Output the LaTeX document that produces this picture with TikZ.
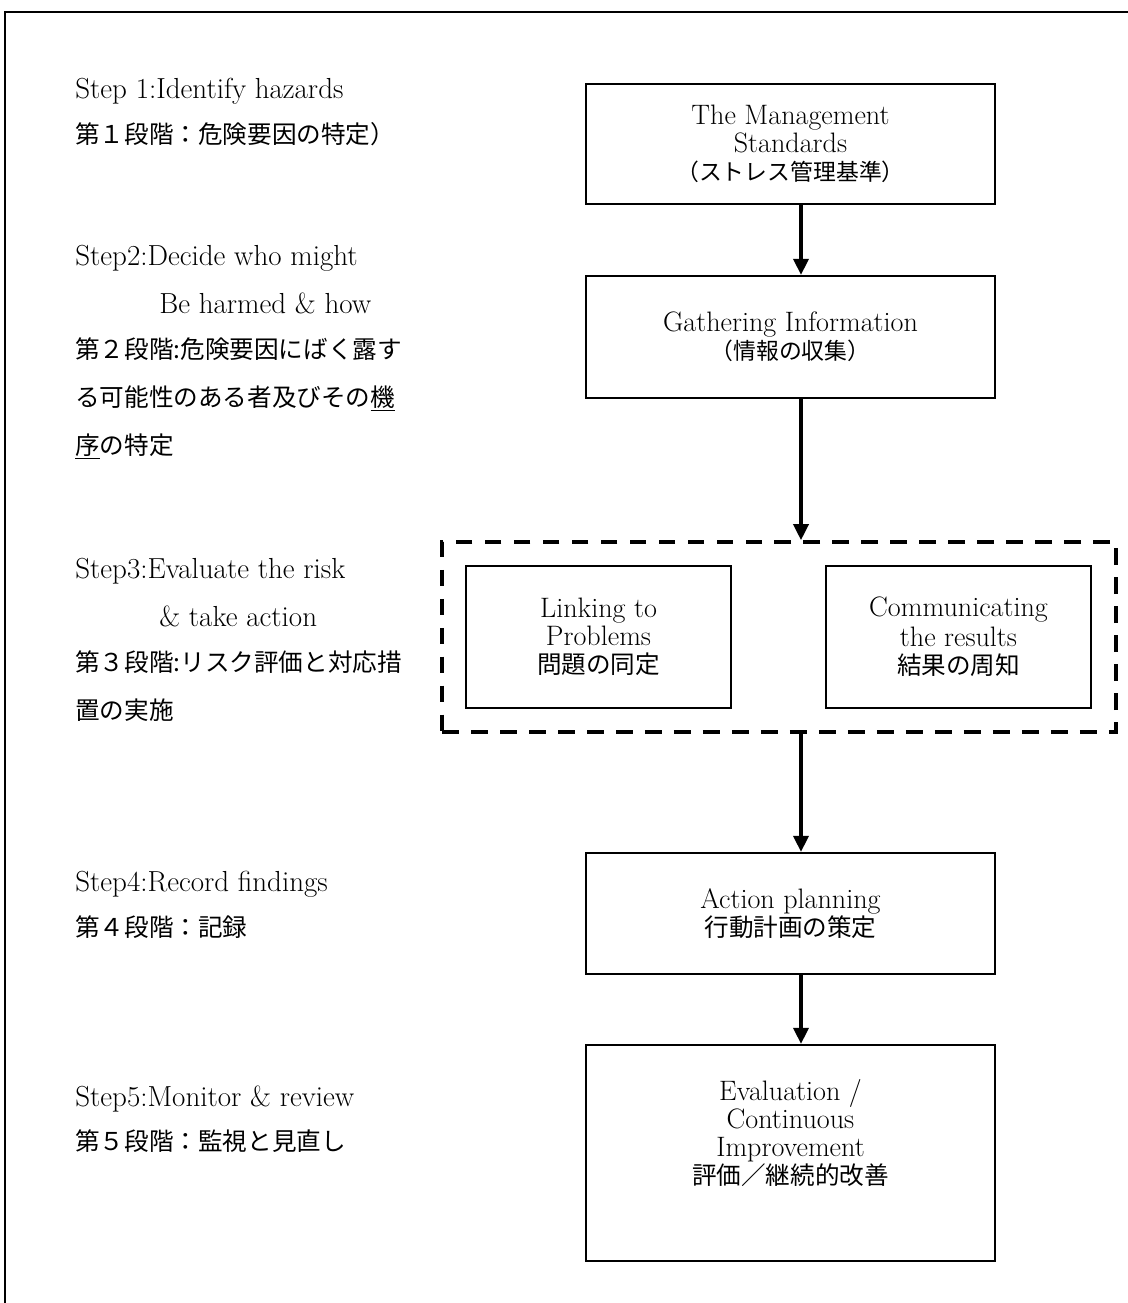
\documentclass[tikz,border=0pt]{standalone}
\usepackage{fontspec}
\newfontfamily\jpf{Noto Sans CJK JP}
\usetikzlibrary{arrows.meta,positioning}

\begin{document}
\begin{tikzpicture}[
    x=0.02cm, y=-0.02cm,
    frame/.style={draw=black, line width=1.4pt},
    box/.style={
        rectangle,
        draw=black,
        line width=1.3pt,
        minimum width=8.18cm,
        align=center,
        inner sep=0pt,
        font=\fontsize{16pt}{16pt}\selectfont
    },
    subbox/.style={
        box,
        minimum width=5.3cm,
        minimum height=2.84cm
    },
    grp/.style={
        rectangle,
        draw=black,
        line width=2.1pt,
        dash pattern=on 9.5pt off 7pt,
        minimum width=13.48cm,
        minimum height=3.8cm,
        inner sep=0pt
    },
    arr/.style={-{Triangle[length=3.2mm,width=3mm]}, line width=2pt},
    en/.style={anchor=base west, inner sep=0pt, font=\fontsize{16.5pt}{20pt}\selectfont},
    jp/.style={anchor=base west, inner sep=0pt, font=\jpf\fontsize{14pt}{16pt}\selectfont}
]
\useasboundingbox (0,0) rectangle (1128,1303);

% =========================================================
% Frame
% =========================================================
\draw[frame] (5,1303) -- (5,12) -- (1128,12);

% =========================================================
% Steps (left column)
% =========================================================
\node[en] (s1en) at (75,98) {Step 1:Identify hazards};
\node[jp] (s1jp) at (75,143) {第１段階：危険要因の特定）};

\node[en] (s2en) at (75,265) {Step2:Decide who might};
\node[en] (s2enb) at (159,313) {Be harmed \& how};
\node[jp] (s2jp) at (75,358) {第２段階:危険要因にばく露す};
\node[jp] (s2jpb) at (75,406) {る可能性のある者及びその\underline{機}};
\node[jp] (s2jpc) at (75,454) {\underline{序}の特定};

\node[en] (s3en) at (75,578) {Step3:Evaluate the risk};
\node[en] (s3enb) at (159,626) {\& take action};
\node[jp] (s3jp) at (75,671) {第３段階:リスク評価と対応措};
\node[jp] (s3jpb) at (75,719) {置の実施};

\node[en] (s4en) at (75,891) {Step4:Record findings};
\node[jp] (s4jp) at (75,936) {第４段階：記録};

\node[en] (s5en) at (75,1106) {Step5:Monitor \& review};
\node[jp] (s5jp) at (75,1150) {第５段階：監視と見直し};

% =========================================================
% Flow (right column)
% =========================================================
\node[box, minimum height=2.4cm] (std) at (790.5,144)
    {The Management\\Standards\\{\jpf\fontsize{13pt}{16pt}\selectfont （ストレス管理基準）}};
\node[box, minimum height=2.44cm] (gather) at (790.5,337)
    {Gathering Information\\{\jpf\fontsize{13pt}{16pt}\selectfont （情報の収集）}};

\node[grp] (grp) at (779,637) {};
\node[subbox] (link) at (598.5,637)
    {Linking to\\Problems\\{\jpf\fontsize{14pt}{16pt}\selectfont 問題の同定}};
\node[subbox] (comm) at (958.5,637)
    {Communicating\\[1pt]the results\\{\jpf\fontsize{14pt}{16pt}\selectfont 結果の周知}};

\node[box, minimum height=2.42cm] (action) at (790.5,913.5)
    {Action planning\\{\jpf\fontsize{14pt}{16pt}\selectfont 行動計画の策定}};
\node[box, minimum height=4.32cm] (eval) at (790.5,1153) {};
\node[align=center, inner sep=0pt, font=\fontsize{16pt}{16pt}\selectfont] (evaltxt) at (790.5,1133)
    {Evaluation /\\Continuous\\Improvement\\{\jpf\fontsize{14pt}{16pt}\selectfont 評価／継続的改善}};

% Connectors
\coordinate (spine) at (801,0);
\draw[arr] (std.south -| spine) -- (gather.north -| spine);
\draw[arr] (gather.south -| spine) -- (grp.north -| spine);
\draw[arr] (grp.south -| spine) -- (action.north -| spine);
\draw[arr] (action.south -| spine) -- (eval.north -| spine);

\end{tikzpicture}
\end{document}
